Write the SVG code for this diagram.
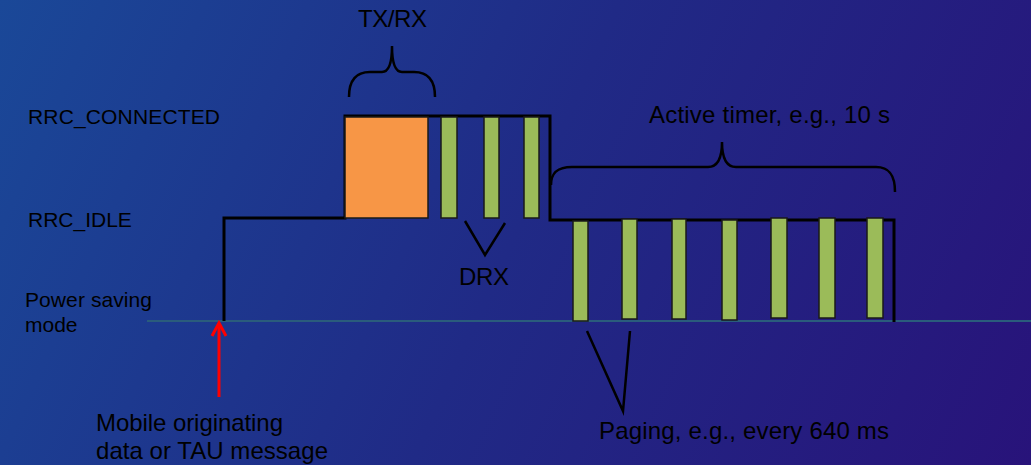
<svg xmlns="http://www.w3.org/2000/svg" width="1031" height="465" viewBox="0 0 1031 465">
<defs>
<linearGradient id="bg" x1="0" y1="0" x2="1031" y2="465" gradientUnits="userSpaceOnUse">
<stop offset="0" stop-color="#1a4898"/>
<stop offset="0.5" stop-color="#202a86"/>
<stop offset="1" stop-color="#28137a"/>
</linearGradient>
</defs>
<style>
text{font-family:"Liberation Sans",Arial,sans-serif;fill:#000;font-size:21px}
.big{font-size:24px}
.st{fill:none;stroke:#000;stroke-width:3}
.thin{fill:none;stroke:#000;stroke-width:2.5}
.g{fill:#9bbb59;stroke:#1a1a1a;stroke-width:1.5}
.o{fill:#f79646;stroke:#1a1a1a;stroke-width:1.5}
</style>
<rect width="1031" height="465" fill="url(#bg)"/>
<g id="labels">
<text x="28" y="124" textLength="192" lengthAdjust="spacing">RRC_CONNECTED</text>
<text x="28" y="227">RRC_IDLE</text>
<text x="25" y="307" font-size="20" textLength="127" lengthAdjust="spacing">Power saving</text>
<text x="25" y="332" font-size="20">mode</text>
</g>
<g id="baseline">
<line x1="147" y1="321" x2="1031" y2="321" stroke="#2a5c7c" stroke-width="2"/>
</g>
<g id="state-line">
<polyline class="st" points="224,321 224,218 345,218 345,116 550,116 550,220 894,220 894,322"/>
</g>
<g id="txrx">
<rect class="o" x="345" y="117" width="83" height="101"/>
<text class="big" x="358" y="27" textLength="69" lengthAdjust="spacing">TX/RX</text>
<path class="thin" d="M349,97 C349,80 356,72 370,72 L382,72 C388,72 392,64 392,46 C392,64 396,72 402,72 L414,72 C428,72 435,80 435,97"/>
</g>
<g id="drx">
<rect class="g" x="441" y="117" width="16" height="101"/>
<rect class="g" x="484" y="117" width="15" height="101"/>
<rect class="g" x="524" y="117" width="15" height="101"/>
<polyline class="thin" points="465,221 485,255 505,223"/>
<text class="big" x="459" y="285" textLength="50" lengthAdjust="spacing">DRX</text>
</g>
<g id="active-timer">
<text class="big" x="649" y="123" textLength="241" lengthAdjust="spacing">Active timer, e.g., 10 s</text>
<path class="thin" d="M551,185 C551,174 556,167 572,167 L708,167 C716,167 722,160 722,142 C722,160 728,167 736,167 L876,167 C890,167 895,176 895,192"/>
</g>
<g id="paging">
<rect class="g" x="573" y="221" width="15" height="100"/>
<rect class="g" x="622" y="219" width="15" height="100"/>
<rect class="g" x="672" y="219" width="14" height="100"/>
<rect class="g" x="722" y="220" width="15" height="100"/>
<rect class="g" x="771" y="218" width="16" height="100"/>
<rect class="g" x="819" y="218" width="16" height="100"/>
<rect class="g" x="867" y="218" width="16" height="100"/>
<polyline class="thin" points="587,331 623,411 630,331"/>
<text class="big" x="599" y="439" textLength="290" lengthAdjust="spacing">Paging, e.g., every 640 ms</text>
</g>
<g id="trigger">
<line x1="219" y1="397" x2="219" y2="324" stroke="#ff0000" stroke-width="3"/>
<polyline points="212,336 219,323 226,336" fill="none" stroke="#ff0000" stroke-width="3"/>
<text class="big" x="96" y="431" textLength="187" lengthAdjust="spacing">Mobile originating</text>
<text class="big" x="96" y="459" textLength="232" lengthAdjust="spacing">data or TAU message</text>
</g>
</svg>
